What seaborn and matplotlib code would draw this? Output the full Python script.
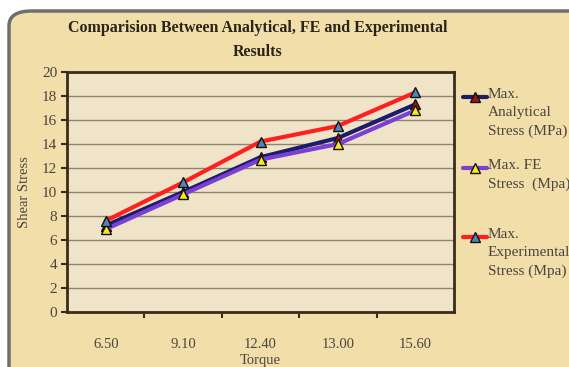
import matplotlib
matplotlib.use("Agg")
import matplotlib.pyplot as plt
from matplotlib.patches import FancyBboxPatch
from matplotlib.lines import Line2D
import seaborn as sns
import pandas as pd

# Torque levels and maximum shear stress from the three methods
torque = ["6.50", "9.10", "12.40", "13.00", "15.60"]
analytical = [7.2, 10.0, 12.9, 14.5, 17.3]
fe = [6.9, 9.8, 12.7, 14.0, 16.8]
experimental = [7.6, 10.8, 14.2, 15.5, 18.3]

series_names = ["Max.\nAnalytical\nStress (MPa)",
                "Max. FE\nStress  (Mpa)",
                "Max.\nExperimental\nStress (Mpa)"]

sns.set_theme(style="white")
plt.rcParams["font.family"] = ["Liberation Serif", "DejaVu Serif"]

W, H = 569, 367
fig = plt.figure(figsize=(W / 100, H / 100), dpi=100)
fig.patch.set_facecolor("white")

# parchment panel with rounded frame, kept behind the axes
panel = FancyBboxPatch((9 / W, -0.2), 1.2, 1 - 11 / H + 0.2,
                       boxstyle="round,pad=0,rounding_size=0.04",
                       transform=fig.transFigure, facecolor="#f1dea9",
                       edgecolor="#6f6f6f", linewidth=2.5, zorder=-5)
fig.patches.append(panel)

ax = fig.add_axes([67 / W, 1 - 312 / H, (454 - 67) / W, (312 - 72) / H])
ax.set_zorder(2)
ax.set_facecolor("#f0e4c8")

df = pd.DataFrame({
    "pos": list(range(len(torque))) * 3,
    "stress": analytical + fe + experimental,
    "series": [series_names[0]] * 5 + [series_names[1]] * 5 + [series_names[2]] * 5,
})

line_colors = ["#1c1c6a", "#7a3fd4", "#ff1f1f"]
marker_fill = ["#a31414", "#f6ea16", "#4f86b8"]
draw_order = [1, 0, 2]
for i in draw_order:
    sub = df[df["series"] == series_names[i]]
    sns.lineplot(data=sub, x="pos", y="stress", ax=ax, color=line_colors[i],
                 linewidth=3, marker="^", markersize=7.5,
                 markerfacecolor=marker_fill[i], markeredgecolor="#111111",
                 markeredgewidth=1, zorder=3 + i, legend=False)

ax.set_xlim(-0.5, len(torque) - 0.5)
ax.set_ylim(0, 20)
ax.set_yticks(range(0, 21, 2))
ax.yaxis.grid(True, color="#8c8372", linewidth=1)
ax.xaxis.grid(False)

# tick marks between categories, labels centred on each category
ax.set_xticks([k - 0.5 for k in range(1, len(torque))])
ax.set_xticklabels([])
ax.set_xticks(range(len(torque)), minor=True)
ax.set_xticklabels(torque, minor=True)
ax.tick_params(axis="x", which="major", length=4, width=1.5, color="#3a2c1c",
               direction="out", bottom=True)
ax.tick_params(axis="x", which="minor", length=0, pad=19, labelsize=10.5,
               labelcolor="#4a4540")
ax.tick_params(axis="y", length=4, width=1.5, color="#3a2c1c", direction="out",
               left=True, labelsize=11, labelcolor="#4a4540", pad=3)

for s in ax.spines.values():
    s.set_visible(True)
    s.set_color("#3a2c1c")
    s.set_linewidth(2)

ax.set_xlabel("Torque", fontsize=10.5, color="#4a4540", labelpad=2)
ax.set_ylabel("Shear Stress", fontsize=10.5, color="#4a4540", labelpad=8)

fig.text(258 / W, 1 - 28 / H, "Comparision Between Analytical, FE and Experimental",
         ha="center", va="center", fontsize=11.5, fontweight="bold", color="#2a2418")
fig.text(258 / W, 1 - 52 / H, "Results",
         ha="center", va="center", fontsize=11.5, fontweight="bold", color="#2a2418")

# legend entries placed beside the plot
legend_y = [97, 168, 237]
for i in range(3):
    y = 1 - legend_y[i] / H
    fig.add_artist(Line2D([463 / W, 487 / W], [y, y], transform=fig.transFigure,
                          color=line_colors[i], linewidth=3))
    fig.add_artist(Line2D([475 / W], [y], transform=fig.transFigure,
                          marker="^", markersize=7.5, markerfacecolor=marker_fill[i],
                          markeredgecolor="#111111", markeredgewidth=1,
                          linestyle="none"))
    fig.text(488 / W, y + 9 / H, series_names[i], ha="left", va="top",
             fontsize=11, color="#4a4540", linespacing=1.5)

fig.savefig("out.png", dpi=100, facecolor=fig.get_facecolor())
